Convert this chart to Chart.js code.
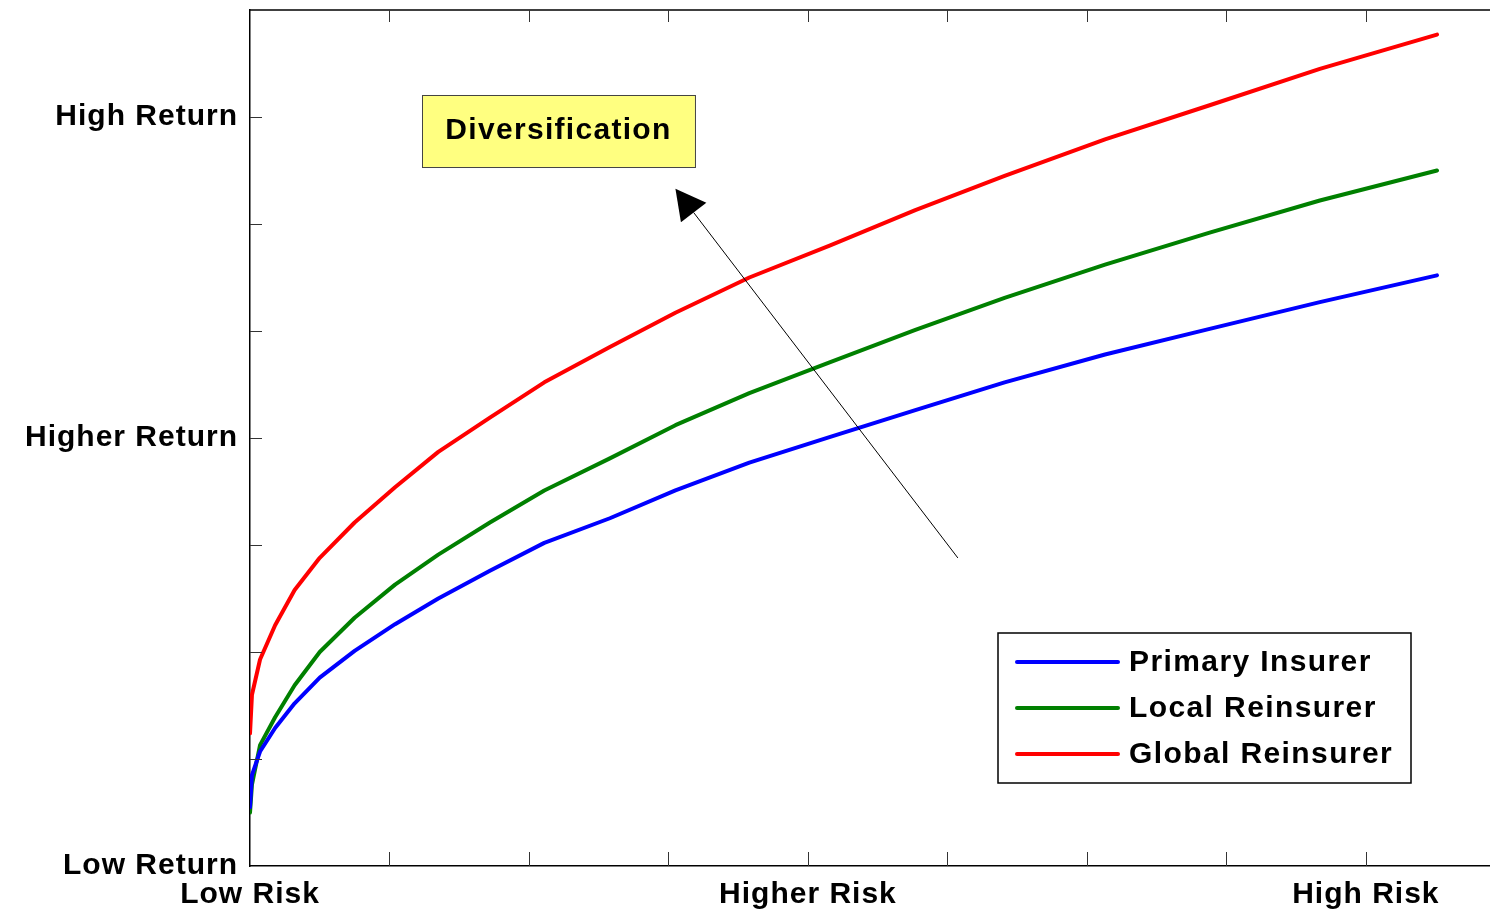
<!DOCTYPE html>
<html>
<head>
<meta charset="utf-8">
<script src="https://cdn.jsdelivr.net/npm/chart.js@4"></script>
<style>
  body { margin: 0; background: #fff; }
  #wrap { width: 1490px; height: 912px; }
</style>
</head>
<body>
<div id="wrap"><canvas id="riskChart"></canvas></div>
<script>
// Risk (x) values shared by the three curves
const risk = [0, 0.014, 0.072, 0.18, 0.32, 0.50, 0.75, 1.04, 1.35, 1.72, 2.11, 2.58, 3.05, 3.58, 4.16, 4.77, 5.41, 6.13, 6.88, 7.67, 8.51];

const primaryInsurer = [0.55, 0.85, 1.07, 1.29, 1.52, 1.76, 2.01, 2.26, 2.50, 2.76, 3.02, 3.25, 3.51, 3.77, 4.01, 4.26, 4.52, 4.78, 5.02, 5.27, 5.52];
const localReinsurer = [0.50, 0.76, 1.13, 1.39, 1.69, 2.00, 2.32, 2.63, 2.91, 3.21, 3.51, 3.81, 4.12, 4.42, 4.71, 5.01, 5.31, 5.62, 5.92, 6.22, 6.50];
const globalReinsurer = [1.24, 1.60, 1.93, 2.25, 2.58, 2.88, 3.21, 3.54, 3.87, 4.19, 4.52, 4.85, 5.17, 5.50, 5.80, 6.13, 6.45, 6.79, 7.11, 7.45, 7.77];

const seriesNames = ['Primary Insurer', 'Local Reinsurer', 'Global Reinsurer'];
const seriesColors = ['#0000ff', '#008000', '#ff0000'];

// Tick positions and their labels
const xTicks = [0, 1, 2, 3, 4, 5, 6, 7, 8];
const xTickLabels = { 0: 'Low Risk', 4: 'Higher Risk', 8: 'High Risk' };
const yTicks = [0, 1, 2, 3, 4, 5, 6, 7];
const yTickLabels = { 0: 'Low Return', 4: 'Higher Return', 7: 'High Return' };

// Annotation (in data units)
const noteText = 'Diversification';
const noteBox = { x0: 1.233, x1: 3.19, y0: 6.533, y1: 7.206 };
const noteArrow = { fromX: 5.075, fromY: 2.879, toX: 3.05, toY: 6.33 };

const FONT = '"Liberation Sans", Arial, Helvetica, sans-serif';

function toPoints(ys) {
  return risk.map((x, i) => ({ x: x, y: ys[i] }));
}

const datasets = [primaryInsurer, localReinsurer, globalReinsurer].map((ys, i) => ({
  label: seriesNames[i],
  data: toPoints(ys),
  borderColor: seriesColors[i],
  backgroundColor: seriesColors[i],
  borderWidth: 4,
  pointRadius: 0,
  tension: 0,
  borderJoinStyle: 'round',
  borderCapStyle: 'round'
}));

// Axis frame bits that Chart.js doesn't draw: top line, inward ticks, letter spacing
const framePlugin = {
  id: 'frame',
  beforeDraw(chart) {
    chart.ctx.letterSpacing = '1px';
  },
  afterDatasetsDraw(chart) {
    const ctx = chart.ctx;
    const a = chart.chartArea;
    const xs = chart.scales.x, ys = chart.scales.y;
    ctx.save();
    ctx.letterSpacing = '0px';
    ctx.strokeStyle = '#000';
    ctx.lineWidth = 1.5;
    ctx.beginPath();
    ctx.moveTo(a.left, a.top);
    ctx.lineTo(chart.width, a.top);
    ctx.stroke();

    ctx.lineWidth = 1;
    ctx.strokeStyle = '#333';
    ctx.beginPath();
    xTicks.forEach(v => {
      if (v === 0) return;
      const px = Math.round(xs.getPixelForValue(v)) + 0.5;
      ctx.moveTo(px, a.bottom);
      ctx.lineTo(px, a.bottom - 14);
      ctx.moveTo(px, a.top);
      ctx.lineTo(px, a.top + 12);
    });
    yTicks.forEach(v => {
      if (v === 0) return;
      const py = Math.round(ys.getPixelForValue(v)) + 0.5;
      ctx.moveTo(a.left, py);
      ctx.lineTo(a.left + 12, py);
    });
    ctx.stroke();

    // annotation box
    const bx0 = xs.getPixelForValue(noteBox.x0), bx1 = xs.getPixelForValue(noteBox.x1);
    const by0 = ys.getPixelForValue(noteBox.y1), by1 = ys.getPixelForValue(noteBox.y0);
    ctx.fillStyle = '#ffff80';
    ctx.fillRect(bx0, by0, bx1 - bx0, by1 - by0);
    ctx.strokeStyle = '#444';
    ctx.lineWidth = 1;
    ctx.strokeRect(Math.round(bx0) + 0.5, Math.round(by0) + 0.5, bx1 - bx0, by1 - by0);
    ctx.fillStyle = '#000';
    ctx.font = 'bold 30px ' + FONT;
    ctx.letterSpacing = '1.3px';
    ctx.textAlign = 'center';
    ctx.textBaseline = 'middle';
    ctx.fillText(noteText, (bx0 + bx1) / 2, (by0 + by1) / 2);

    // arrow
    const fx = xs.getPixelForValue(noteArrow.fromX), fy = ys.getPixelForValue(noteArrow.fromY);
    const tx = xs.getPixelForValue(noteArrow.toX), ty = ys.getPixelForValue(noteArrow.toY);
    const ang = Math.atan2(ty - fy, tx - fx);
    const headLen = 30, headHalf = 16;
    const bx = tx - headLen * Math.cos(ang), by = ty - headLen * Math.sin(ang);
    ctx.strokeStyle = '#000';
    ctx.lineWidth = 1;
    ctx.beginPath();
    ctx.moveTo(fx, fy);
    ctx.lineTo(bx, by);
    ctx.stroke();
    ctx.beginPath();
    ctx.moveTo(tx, ty);
    ctx.lineTo(bx + headHalf * Math.sin(ang), by - headHalf * Math.cos(ang));
    ctx.lineTo(bx - headHalf * Math.sin(ang), by + headHalf * Math.cos(ang));
    ctx.closePath();
    ctx.fillStyle = '#000';
    ctx.fill();

    // legend box, anchored to lower right of the plot
    const lw = 413, lh = 150;
    const lx = a.right - 79 - lw, ly = a.bottom - 83 - lh;
    ctx.fillStyle = '#fff';
    ctx.fillRect(lx, ly, lw, lh);
    ctx.strokeStyle = '#000';
    ctx.lineWidth = 1.5;
    ctx.strokeRect(lx, ly, lw, lh);
    ctx.font = 'bold 30px ' + FONT;
    ctx.letterSpacing = '1.4px';
    ctx.textAlign = 'left';
    ctx.textBaseline = 'middle';
    chart.data.datasets.forEach((ds, i) => {
      const rowY = ly + 29 + i * 46;
      ctx.strokeStyle = ds.borderColor;
      ctx.lineWidth = 4;
      ctx.lineCap = 'round';
      ctx.beginPath();
      ctx.moveTo(lx + 19, rowY);
      ctx.lineTo(lx + 120, rowY);
      ctx.stroke();
      ctx.fillStyle = '#000';
      ctx.fillText(ds.label, lx + 131, rowY + 1);
    });
    ctx.restore();
  }
};

new Chart(document.getElementById('riskChart'), {
  type: 'line',
  data: { datasets: datasets },
  options: {
    responsive: true,
    maintainAspectRatio: false,
    animation: false,
    layout: { padding: { top: 10, right: 0, left: 0, bottom: 0 } },
    plugins: {
      legend: { display: false },
      tooltip: { enabled: false }
    },
    scales: {
      x: {
        type: 'linear',
        min: 0,
        max: 8.89,
        afterBuildTicks(scale) { scale.ticks = xTicks.map(v => ({ value: v })); },
        afterFit(scale) {
          scale.height = 46;
          scale.paddingLeft = 0;
          scale.paddingRight = 0;
        },
        grid: { drawOnChartArea: false, drawTicks: false },
        border: { display: true, color: '#000', width: 1.5 },
        ticks: {
          autoSkip: false,
          maxRotation: 0,
          padding: 11,
          color: '#000',
          font: { family: FONT, size: 30, weight: 'bold' },
          callback: v => xTickLabels[v] || ''
        }
      },
      y: {
        min: 0,
        max: 8,
        afterBuildTicks(scale) { scale.ticks = yTicks.map(v => ({ value: v })); },
        afterFit(scale) {
          scale.width = 250;
          scale.paddingTop = 0;
          scale.paddingBottom = 0;
        },
        grid: { drawOnChartArea: false, drawTicks: false },
        border: { display: true, color: '#000', width: 1.5 },
        ticks: {
          autoSkip: false,
          padding: 12,
          color: '#000',
          font: { family: FONT, size: 30, weight: 'bold' },
          callback: v => yTickLabels[v] || ''
        }
      }
    }
  },
  plugins: [framePlugin]
});
</script>
</body>
</html>
